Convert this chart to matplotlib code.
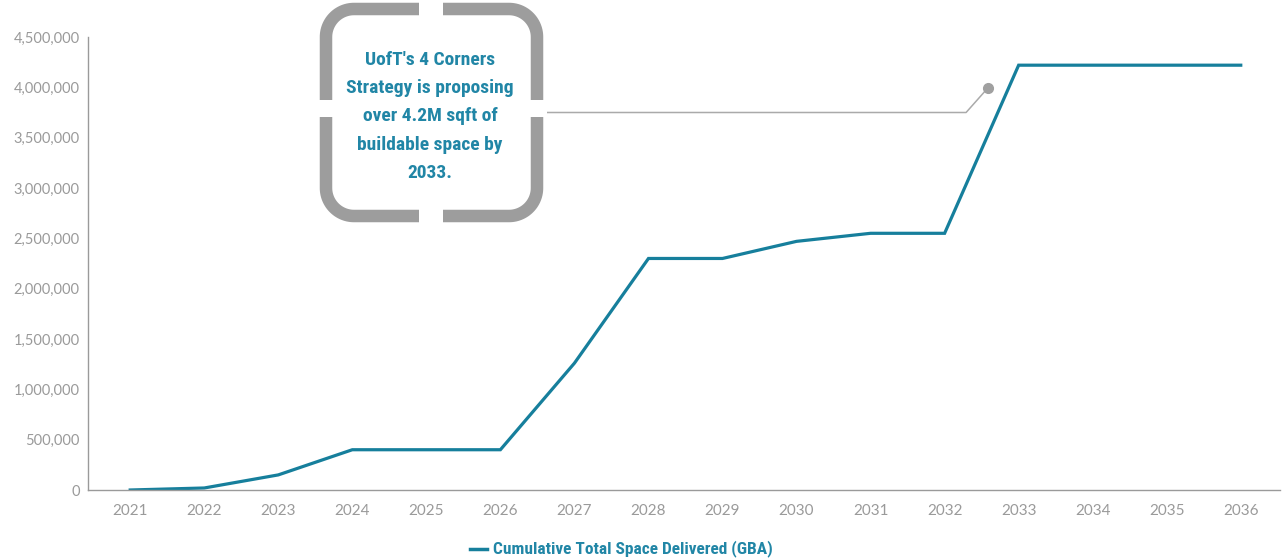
import numpy as np
import matplotlib
matplotlib.use("Agg")
import matplotlib.pyplot as plt
from matplotlib import font_manager

years = [2021, 2022, 2023, 2024, 2025, 2026, 2027, 2028,
         2029, 2030, 2031, 2032, 2033, 2034, 2035, 2036]
cumulative_gba = [0, 20000, 150000, 400000, 400000, 400000, 1260000, 2300000,
                  2300000, 2470000, 2550000, 2550000, 4220000, 4220000, 4220000, 4220000]
y_ticks = [0, 500000, 1000000, 1500000, 2000000, 2500000, 3000000, 3500000, 4000000, 4500000]
series_name = "Cumulative Total Space Delivered (GBA)"
callout_lines = ["UofT's 4 Corners", "Strategy is proposing", "over 4.2M sqft of",
                 "buildable space by", "2033."]

TEAL = "#167f9c"
TEAL_TXT = "#2186a6"
GREY_TXT = "#9a9a9a"
GREY_AX = "#9a9a9a"
BRACKET = "#9d9d9d"

# Pick a narrow bold face for the callout and legend text
fonts = font_manager.fontManager.ttflist
names = {f.name for f in fonts}
narrow_props = dict(family="DejaVu Sans", stretch="condensed")
for cand in ["Roboto Condensed", "Liberation Sans Narrow", "Open Sans Condensed",
             "Noto Sans Condensed", "DejaVu Sans Condensed"]:
    if cand in names:
        narrow_props = dict(family=cand)
        break

def narrow_font(size):
    return font_manager.FontProperties(size=size, weight="bold", **narrow_props)

light = "Lato" if "Lato" in names else "DejaVu Sans"

W, H = 1286, 560
fig = plt.figure(figsize=(W / 100, H / 100), dpi=100)
ax = fig.add_axes([88 / W, 1 - 490 / H, (1280 - 88) / W, (490 - 37) / H])

ax.plot(years, cumulative_gba, color=TEAL, lw=2.3, solid_joinstyle="miter")
ax.set_xlim(2020.43, 2036.53)
ax.set_ylim(0, 4500000)
ax.set_xticks(years)
ax.set_xticklabels([str(y) for y in years])
ax.set_yticks(y_ticks)
ax.set_yticklabels([f"{v:,}" for v in y_ticks])
ax.tick_params(length=0, colors=GREY_TXT, labelsize=10.5, pad=6)
ax.tick_params(axis="x", pad=10, labelsize=11)
for lab in ax.get_xticklabels() + ax.get_yticklabels():
    lab.set_fontfamily(light)
    lab.set_fontweight("normal")
for s in ["top", "right"]:
    ax.spines[s].set_visible(False)
for s in ["left", "bottom"]:
    ax.spines[s].set_color(GREY_AX)
    ax.spines[s].set_linewidth(1.0)

# Callout connector and marker (data coordinates)
ax.plot([2026.64, 2032.29, 2032.58], [3750000, 3750000, 3990000],
        color="#aaaaaa", lw=1.1, clip_on=False)
ax.plot([2032.58], [3990000], "o", color="#a0a0a0", ms=7, clip_on=False)

# Bracket frame around the callout, in figure pixels
def px(x, y):
    return x / W, 1 - y / H

L, R, T, B = 326, 537, 9, 216
r = 28
gx0, gx1 = 419, 443
gy0, gy1 = 100, 117

def corner(cx, cy, a0, a1, start, end):
    th = np.linspace(np.radians(a0), np.radians(a1), 30)
    xs = [start[0]] + list(cx + r * np.cos(th)) + [end[0]]
    ys = [start[1]] + list(cy - r * np.sin(th)) + [end[1]]
    pts = [px(x, y) for x, y in zip(xs, ys)]
    fig.add_artist(plt.Line2D([p[0] for p in pts], [p[1] for p in pts],
                              transform=fig.transFigure, color=BRACKET,
                              lw=9, solid_capstyle="butt"))

corner(L + r, T + r, 90, 180, (gx0, T), (L, gy0))
corner(R - r, T + r, 90, 0, (gx1, T), (R, gy0))
corner(L + r, B - r, 180, 270, (L, gy1), (gx0, B))
corner(R - r, B - r, 0, -90, (R, gy1), (gx1, B))

for i, line in enumerate(callout_lines):
    x, y = px(430, 60 + i * 28.2)
    fig.text(x, y, line, ha="center", va="center", color=TEAL_TXT,
             fontproperties=narrow_font(14))

# Legend entry
lx0, ly = px(470, 549)
lx1, _ = px(487, 549)
fig.add_artist(plt.Line2D([lx0, lx1], [ly, ly], transform=fig.transFigure,
                          color=TEAL, lw=2.5))
fig.text(px(493, 549)[0], ly, series_name, ha="left", va="center",
         color=TEAL_TXT, fontproperties=narrow_font(12.5))

fig.savefig("out.png", dpi=100, facecolor="white")
